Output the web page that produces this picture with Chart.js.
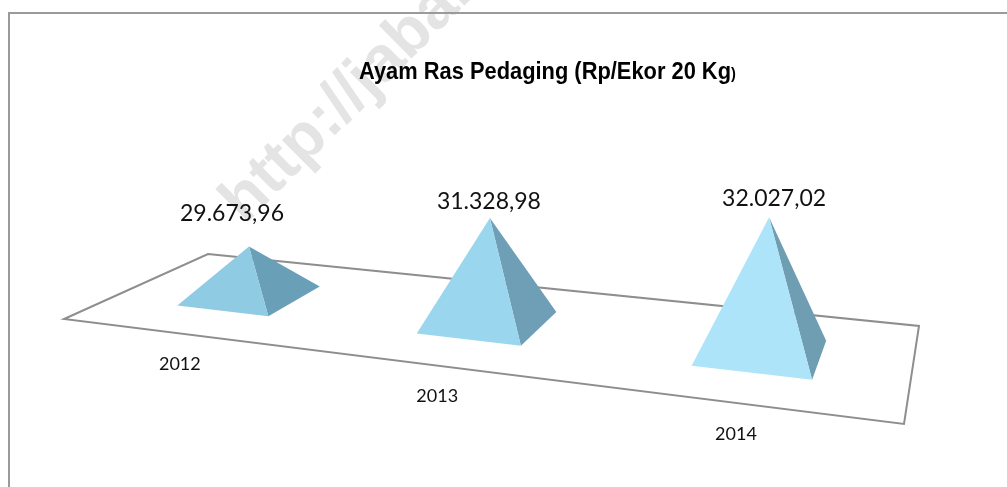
<!DOCTYPE html>
<html>
<head>
<meta charset="utf-8">
<title>Ayam Ras Pedaging</title>
<script src="https://cdn.jsdelivr.net/npm/chart.js@4/dist/chart.umd.min.js"></script>
<style>
  html, body { margin: 0; padding: 0; background: #fff; overflow: hidden; }
  canvas { display: block; }
</style>
</head>
<body>
<canvas id="chart" width="1007" height="487"></canvas>
<script>
// ---- data ----
const years = ['2012', '2013', '2014'];
const prices = [29673.96, 31328.98, 32027.02];
const titleMain = 'Ayam Ras Pedaging (Rp/Ekor 20 Kg';
const titleEnd = ')';
const watermark = 'http://jabar.bps.go.id';

// ---- styling ----
const faceLight = ['#8fcbe2', '#9ad7ef', '#aee4f9'];
const faceDark = ['#6a9fb8', '#6f9fb6', '#6f9db1'];
const labelShift = [[-17, -33], [-1, -16], [5, -19]]; // value label offset from the apex
const LINE = '#8e8e8e';

// floor of the 3D plot, corners clockwise from back left
const floor = [[208, 254], [919, 326], [904, 424], [64, 319]];
const HALF_U = 0.066, HALF_V = 0.21; // half size of a pyramid base, in floor units
const LEAN = 0.00017; // verticals fan out slightly with x

// unit square -> floor quad (plain projective mapping)
const [[x0, y0], [x1, y1], [x2, y2], [x3, y3]] = floor;
const den = (x1 - x2) * (y3 - y2) - (x3 - x2) * (y1 - y2);
const sx = x0 - x1 + x2 - x3, sy = y0 - y1 + y2 - y3;
const g = (sx * (y3 - y2) - (x3 - x2) * sy) / den;
const h = ((x1 - x2) * sy - sx * (y1 - y2)) / den;
const project = (u, v) => {
  const w = 1 + g * u + h * v;
  return {
    x: ((x1 - x0 + g * x1) * u + (x3 - x0 + h * x3) * v + x0) / w,
    y: ((y1 - y0 + g * y1) * u + (y3 - y0 + h * y3) * v + y0) / w,
    w
  };
};

const poly = (ctx, pts, fill) => {
  ctx.beginPath();
  pts.forEach((p, i) => i ? ctx.lineTo(p.x, p.y) : ctx.moveTo(p.x, p.y));
  ctx.closePath();
  ctx.fillStyle = fill;
  ctx.fill();
};

const fmt = new Intl.NumberFormat('id-ID', { minimumFractionDigits: 2, maximumFractionDigits: 2 });

// page furniture: watermark, frame, floor, title
const backdrop = {
  id: 'backdrop',
  beforeDraw(chart) {
    const ctx = chart.ctx;
    ctx.save();
    ctx.translate(245, 225);
    ctx.rotate(-Math.PI / 4);
    ctx.font = 'bold 64px "Liberation Sans"';
    ctx.fillStyle = '#e4e4e4';
    ctx.textAlign = 'left';
    ctx.textBaseline = 'alphabetic';
    ctx.fillText(watermark, 0, 0);
    ctx.restore();

    ctx.save();
    ctx.strokeStyle = '#9a9a9a';
    ctx.lineWidth = 2;
    ctx.beginPath();
    ctx.moveTo(9, 487); ctx.lineTo(9, 13); ctx.lineTo(1007, 13);
    ctx.stroke();

    ctx.strokeStyle = LINE;
    ctx.beginPath();
    floor.forEach((p, i) => i ? ctx.lineTo(p[0], p[1]) : ctx.moveTo(p[0], p[1]));
    ctx.closePath();
    ctx.stroke();

    // title is narrower than Liberation Bold, so squeeze it to the measured width
    ctx.fillStyle = '#000';
    ctx.textBaseline = 'alphabetic';
    ctx.textAlign = 'left';
    ctx.font = 'bold 24px "Liberation Sans"';
    const tw = ctx.measureText(titleMain).width;
    ctx.translate(359, 79);
    ctx.scale(372 / tw, 1);
    ctx.fillText(titleMain, 0, 0);
    ctx.font = 'bold 16px "Liberation Sans"';
    ctx.fillText(titleEnd, tw, 0);
    ctx.restore();
  }
};

// draws each bar of the hidden bar dataset as a pyramid standing on the floor
const pyramids = {
  id: 'pyramids',
  afterDatasetsDraw(chart) {
    const ctx = chart.ctx, area = chart.chartArea, yScale = chart.scales.y;
    const bars = chart.getDatasetMeta(0).data;
    ctx.save();
    bars.forEach((bar, i) => {
      const u = (bar.x - area.left) / area.width;
      const c = project(u, 0.5);
      const rise = (yScale.bottom - yScale.getPixelForValue(prices[i])) / c.w;
      const apex = { x: c.x + LEAN * (c.x - 400) * rise, y: c.y - rise };
      const left = project(u - HALF_U, 0.5 + HALF_V);
      const front = project(u + HALF_U, 0.5 + HALF_V);
      const right = project(u + HALF_U, 0.5 - HALF_V);
      poly(ctx, [apex, front, right], faceDark[i]);
      poly(ctx, [apex, left, front], faceLight[i]);

      ctx.fillStyle = '#111';
      ctx.textAlign = 'center';
      ctx.textBaseline = 'middle';
      ctx.font = '23px Lato';
      ctx.fillText(fmt.format(prices[i]), apex.x + labelShift[i][0], apex.y + labelShift[i][1]);

      const edge = project(u, 1);
      ctx.font = '18px Lato';
      ctx.fillText(years[i], edge.x, edge.y + 31);
    });
    ctx.restore();
  }
};

new Chart(document.getElementById('chart'), {
  type: 'bar',
  data: {
    labels: years,
    datasets: [{ data: prices, backgroundColor: 'transparent', borderWidth: 0 }]
  },
  options: {
    responsive: false,
    animation: false,
    layout: { padding: { top: 112, bottom: 112, left: 0, right: 0 } },
    plugins: { legend: { display: false }, title: { display: false }, tooltip: { enabled: false } },
    scales: {
      x: { display: false },
      y: { display: false, min: 28000, max: 38000 }
    }
  },
  plugins: [backdrop, pyramids]
});
</script>
</body>
</html>
